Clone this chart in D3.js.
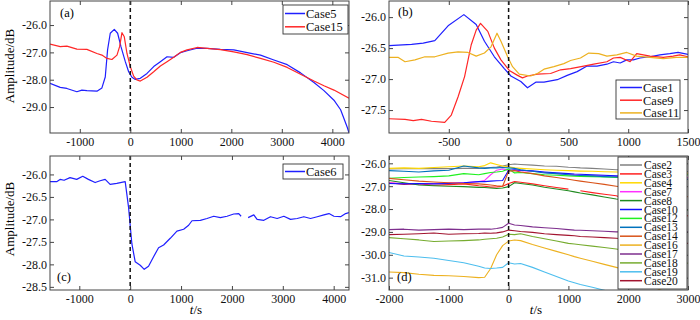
<!DOCTYPE html>
<html>
<head>
<meta charset="utf-8">
<script src="https://cdn.jsdelivr.net/npm/d3@7"></script>
<style>
    body { margin: 0; background: #fff; }
    #chart text { font-family: "Liberation Serif", "Times New Roman", serif; }
</style>
</head>
<body>
<div id="chart"></div>
<script>
// ---- panel (a) ----
var tA5 = [-1590,-1388,-1256,-1058,-959,-860,-661,-562,-496,-450,-397,-317,-251,-185,-99,-33,33,99,198,331,463,595,727,860,992,1124,1322,1520,1785,2049,2314,2578,2843,3107,3371,3636,3834,4032,4164,4297,4330];
var vA5 = [-28.13,-28.28,-28.32,-28.44,-28.38,-28.4,-28.42,-28.3,-27.9,-26.91,-26.3,-26.16,-26.3,-26.79,-27.34,-27.71,-27.91,-27.99,-27.95,-27.77,-27.52,-27.34,-27.16,-27.18,-27.01,-26.94,-26.85,-26.85,-26.89,-26.91,-27.01,-27.1,-27.28,-27.45,-27.75,-28.1,-28.4,-28.75,-29.1,-29.75,-29.95];
var tA15 = [-1590,-1388,-1256,-1058,-860,-661,-562,-463,-364,-264,-212,-165,-119,-66,0,66,132,198,331,463,595,727,860,992,1124,1322,1520,1785,2049,2314,2578,2843,3107,3371,3636,3834,4032,4330];
var vA15 = [-26.7,-26.79,-26.77,-26.88,-26.89,-27.04,-27.1,-27.22,-27.26,-27.1,-26.79,-26.28,-26.43,-27.04,-27.52,-27.87,-28.01,-28.05,-27.91,-27.71,-27.5,-27.34,-27.18,-27.0,-26.91,-26.82,-26.85,-26.9,-26.98,-27.08,-27.22,-27.36,-27.55,-27.8,-28.05,-28.22,-28.38,-28.68];

// ---- panel (b) ----
var tB1 = [-1000,-811,-714,-617,-506,-374,-271,-202,-119,-36,19,102,158,227,296,407,490,573,656,739,822,877,933,988,1043,1099,1182,1265,1348,1417,1500];
var vB1 = [-26.46,-26.44,-26.42,-26.38,-26.14,-25.96,-26.12,-26.39,-26.64,-26.83,-26.95,-27.04,-27.14,-27.05,-27.05,-27.01,-26.94,-26.88,-26.79,-26.79,-26.76,-26.72,-26.74,-26.69,-26.69,-26.66,-26.64,-26.61,-26.59,-26.57,-26.6];
var tB9 = [-1000,-866,-797,-728,-645,-534,-479,-423,-368,-313,-271,-235,-174,-119,-64,6,75,116,158,241,351,435,518,628,712,822,877,933,1016,1071,1182,1293,1376,1431,1500];
var vB9 = [-27.64,-27.65,-27.67,-27.65,-27.68,-27.7,-27.58,-27.29,-26.96,-26.45,-26.21,-26.1,-26.23,-26.5,-26.69,-26.86,-26.94,-26.98,-26.95,-26.92,-26.91,-26.85,-26.83,-26.79,-26.76,-26.72,-26.66,-26.65,-26.72,-26.59,-26.63,-26.65,-26.63,-26.61,-26.64];
var tB11 = [-1000,-922,-866,-783,-700,-617,-506,-423,-340,-271,-202,-147,-97,-64,-8,33,89,185,241,296,379,462,518,601,670,753,822,905,988,1071,1182,1293,1403,1500];
var vB11 = [-26.65,-26.65,-26.72,-26.69,-26.64,-26.64,-26.58,-26.56,-26.57,-26.63,-26.58,-26.48,-26.26,-26.39,-26.64,-26.8,-26.92,-26.95,-26.91,-26.84,-26.8,-26.75,-26.7,-26.66,-26.58,-26.59,-26.63,-26.61,-26.57,-26.63,-26.65,-26.67,-26.65,-26.65];

// ---- panel (c) ----  (null = gap in the record)
var tC6 = [-1576,-1445,-1379,-1300,-1182,-1051,-932,-821,-689,-591,-492,-394,-263,-98,-33,33,98,197,276,361,460,558,657,788,919,1051,1149,1215,1379,1510,1642,1773,1904,2035,2134,2180,2250,2318,2430,2495,2627,2758,2889,3020,3152,3283,3414,3545,3677,3808,3907,4005,4136,4235,4301];
var vC6 = [-26.16,-26.16,-26.11,-26.13,-26.07,-26.11,-26.04,-26.11,-26.18,-26.14,-26.11,-26.22,-26.2,-26.16,-26.72,-27.54,-27.94,-28.02,-28.11,-28.04,-27.83,-27.63,-27.57,-27.42,-27.26,-27.22,-27.13,-27.03,-27.02,-26.98,-26.93,-26.96,-26.93,-26.88,-26.87,-26.93,null,-26.96,-26.9,-27.0,-27.02,-26.94,-26.98,-26.93,-27.0,-26.98,-26.94,-26.98,-26.94,-26.9,-26.87,-26.93,-26.94,-26.87,-26.85];

// ---- panel (d) ---- shared time axis
var tD = [-2000,-1750,-1500,-1250,-1000,-750,-500,-400,-300,-200,-100,0,100,200,400,600,800,1000,1100,1200,1400,1600,1800,2000,2500,3000];
var vD2  = [-26.25,-26.24,-26.24,-26.22,-26.23,-26.22,-26.22,-26.2,-26.18,-26.16,-26.12,-26.06,-26.03,-26.05,-26.08,-26.12,-26.13,-26.17,-26.18,-26.2,-26.22,-26.25,-26.28,-26.3,-26.33,-26.36];
var vD3  = [-26.85,-26.92,-26.9,-26.96,-26.93,-26.9,-26.98,-27.0,-27.04,-27.03,-27.0,-26.88,-26.8,-26.83,-26.9,-26.98,-27.06,-27.13,null,-27.2,-27.28,-27.35,-27.42,-27.6,-27.95,-28.3];
var vD4  = [-26.22,-26.2,-26.22,-26.18,-26.15,-26.12,-26.15,-26.1,-25.98,-26.05,-26.12,-26.15,-26.2,-26.22,-26.25,-26.28,-26.3,-26.32,-26.33,-26.34,-26.35,-26.37,-26.38,-26.39,-26.41,-26.43];
var vD7  = [-26.85,-26.88,-26.9,-26.88,-26.85,-26.85,-26.8,-26.75,-26.5,-26.3,-26.25,-26.3,-26.3,-26.32,-26.35,-26.4,-26.45,-26.48,-26.5,-26.51,-26.53,-26.55,-26.57,-26.58,-26.6,-26.62];
var vD8  = [-26.75,-26.85,-26.95,-26.98,-27.0,-27.02,-27.05,-27.06,-27.08,-27.1,-27.08,-27.02,-26.85,-26.88,-26.95,-27.05,-27.12,-27.2,-27.25,-27.3,-27.38,-27.47,-27.56,-27.62,-27.85,-28.05];
var vD10 = [-26.88,-26.9,-26.88,-26.9,-26.88,-26.85,-26.8,-26.8,-26.78,-26.76,-26.75,-26.3,-26.28,-26.3,-26.33,-26.38,-26.42,-26.45,-26.47,-26.48,-26.5,-26.52,-26.55,-26.58,-26.65,-26.7];
var vD12 = [-26.65,-26.62,-26.6,-26.58,-26.55,-26.45,-26.5,-26.45,-26.4,-26.38,-26.35,-26.25,-26.42,-26.4,-26.45,-26.5,-26.52,-26.55,-26.56,-26.57,-26.58,-26.6,-26.62,-26.6,-26.55,-26.5];
var vD13 = [-26.32,-26.35,-26.38,-26.33,-26.3,-26.12,-26.2,-26.22,-26.2,-26.2,-26.18,-26.2,-26.22,-26.28,-26.35,-26.42,-26.45,-26.5,-26.52,-26.53,-26.55,-26.58,-26.6,-26.62,-26.66,-26.7];
var vD14 = [-26.66,-26.72,-26.78,-26.82,-26.85,-26.88,-26.9,-26.92,-26.95,-26.98,-27.0,-26.35,-26.32,-26.38,-26.45,-26.55,-26.62,-26.7,-26.74,-26.78,-26.85,-26.92,-27.0,-27.08,-27.25,-27.46];
var vD16 = [-30.75,-30.78,-30.85,-30.9,-30.92,-30.95,-31.0,-30.98,-30.6,-30.0,-29.6,-29.4,-29.35,-29.38,-29.55,-29.7,-29.85,-30.0,-30.08,-30.15,-30.28,-30.42,-30.55,-30.7,-31.5,-32.0];
var vD17 = [-28.9,-28.88,-28.92,-28.9,-28.88,-28.9,-28.88,-28.87,-28.88,-28.85,-28.8,-28.62,-28.7,-28.72,-28.78,-28.82,-28.85,-28.9,-28.92,-28.93,-28.95,-28.97,-29.0,-29.0,-29.0,-29.0];
var vD18 = [-29.25,-29.3,-29.35,-29.42,-29.4,-29.38,-29.35,-29.32,-29.3,-29.28,-29.22,-29.1,-29.12,-29.08,-29.2,-29.3,-29.4,-29.5,-29.53,-29.56,-29.62,-29.68,-29.75,-29.85,-30.1,-30.37];
var vD19 = [-29.9,-30.05,-30.1,-30.15,-30.25,-30.35,-30.5,-30.58,-30.6,-30.58,-30.55,-30.35,-30.4,-30.38,-30.55,-30.75,-30.95,-31.15,-31.22,-31.3,-31.42,-31.55,-31.7,-31.85,null,null];
var vD20 = [-29.12,-29.1,-29.08,-29.05,-29.1,-29.08,-29.07,-29.05,-29.06,-29.04,-29.0,-28.92,-28.95,-28.98,-29.02,-29.08,-29.12,-29.15,-29.17,-29.2,-29.22,-29.25,-29.28,-29.32,-29.4,-29.5];

// tick labels
var xTicksAC = [-1000, 0, 1000, 2000, 3000, 4000];
var xTicksB = [-500, 0, 500, 1000, 1500];
var xTicksD = [-2000, -1000, 0, 1000, 2000, 3000];
var yTicksA = [-26, -27, -28, -29];
var yTicksB = [-26, -26.5, -27, -27.5];
var yTicksC = [-26, -26.5, -27, -27.5, -28, -28.5];
var yTicksD = [-26, -27, -28, -29, -30, -31];

function Chart() {
    var svg = d3.select("#chart")
                .append("svg")
                .attr("width", 700)
                .attr("height", 320)
                .style("background-color", "#fff");

    drawPanel(svg, {
        id: "a", left: 50, right: 349, top: 1, bottom: 133,
        xDomain: [-1590, 4330], yDomain: [-29.95, -25.12],
        xTicks: xTicksAC, yTicks: yTicksA, tag: "(a)", tagX: 60, tagY: 17,
        series: [
            { name: "Case5", t: tA5, v: vA5, color: "#1f1fff" },
            { name: "Case15", t: tA15, v: vA15, color: "#ff2626" }
        ],
        legend: { x: 283, y: 5, w: 65, h: 29, first: 8.5, step: 13.3, lx: 2, len: 20, tx: 23, size: 12.5 }
    });

    drawPanel(svg, {
        id: "b", left: 389, right: 688, top: 1, bottom: 133,
        xDomain: [-1000, 1500], yDomain: [-27.87, -25.74],
        xTicks: xTicksB, yTicks: yTicksB, tag: "(b)", tagX: 398, tagY: 16,
        series: [
            { name: "Case1", t: tB1, v: vB1, color: "#1f1fff" },
            { name: "Case9", t: tB9, v: vB9, color: "#ff2626" },
            { name: "Case11", t: tB11, v: vB11, color: "#edb120" }
        ],
        legend: { x: 616, y: 80, w: 64, h: 39, first: 7.5, step: 12.7, lx: 4, len: 22, tx: 27, size: 12.5 }
    });

    drawPanel(svg, {
        id: "c", left: 50, right: 349, top: 156, bottom: 290,
        xDomain: [-1576, 4301], yDomain: [-28.57, -25.59],
        xTicks: xTicksAC, yTicks: yTicksC, tag: "(c)", tagX: 57, tagY: 281,
        series: [
            { name: "Case6", t: tC6, v: vC6, color: "#1f1fff" }
        ],
        legend: { x: 283, y: 164, w: 60, h: 15, first: 7.5, step: 13, lx: 2, len: 20, tx: 23, size: 12.5 }
    });

    drawPanel(svg, {
        id: "d", left: 389, right: 688, top: 156, bottom: 290,
        xDomain: [-2000, 3000], yDomain: [-31.54, -25.68],
        xTicks: xTicksD, yTicks: yTicksD, tag: "(d)", tagX: 397, tagY: 281, width: 1.1,
        series: [
            { name: "Case2", t: tD, v: vD2, color: "#808080" },
            { name: "Case3", t: tD, v: vD3, color: "#ff2020" },
            { name: "Case4", t: tD, v: vD4, color: "#ffd800" },
            { name: "Case7", t: tD, v: vD7, color: "#ff30ff" },
            { name: "Case8", t: tD, v: vD8, color: "#208a20" },
            { name: "Case10", t: tD, v: vD10, color: "#1010ff" },
            { name: "Case12", t: tD, v: vD12, color: "#20f020" },
            { name: "Case13", t: tD, v: vD13, color: "#0072bd" },
            { name: "Case14", t: tD, v: vD14, color: "#d95319" },
            { name: "Case16", t: tD, v: vD16, color: "#edb120" },
            { name: "Case17", t: tD, v: vD17, color: "#7e2f8e" },
            { name: "Case18", t: tD, v: vD18, color: "#77ac30" },
            { name: "Case19", t: tD, v: vD19, color: "#4dbeee" },
            { name: "Case20", t: tD, v: vD20, color: "#a2142f" }
        ],
        legend: { x: 618, y: 157, w: 69, h: 132, first: 8, step: 8.9, lx: 2, len: 22, tx: 26, size: 11.5 }
    });

    // axis titles
    svg.append("text").attr("transform", "translate(14,66) rotate(-90)")
       .attr("text-anchor", "middle").attr("font-size", 13).text("Amplitude/dB");
    svg.append("text").attr("transform", "translate(14,219) rotate(-90)")
       .attr("text-anchor", "middle").attr("font-size", 13).text("Amplitude/dB");

    [196, 536].forEach(function(cx) {
        var t = svg.append("text").attr("x", cx).attr("y", 314)
                   .attr("text-anchor", "middle").attr("font-size", 13);
        t.append("tspan").attr("font-style", "italic").text("t");
        t.append("tspan").text("/s");
    });
}

function drawPanel(svg, p) {
    var x = d3.scaleLinear().domain(p.xDomain).range([p.left, p.right]);
    var y = d3.scaleLinear().domain(p.yDomain).range([p.bottom, p.top]);
    var lw = p.width || 1.2;

    // clip lines to the plot box
    svg.append("clipPath").attr("id", "clip-" + p.id)
       .append("rect")
       .attr("x", p.left).attr("y", p.top)
       .attr("width", p.right - p.left).attr("height", p.bottom - p.top);

    var line = d3.line()
                 .defined(function(d) { return d[1] !== null; })
                 .x(function(d) { return x(d[0]); })
                 .y(function(d) { return y(d[1]); });

    var g = svg.append("g").attr("clip-path", "url(#clip-" + p.id + ")");
    p.series.forEach(function(s) {
        var pts = s.t.map(function(t, i) { return [t, s.v[i]]; });
        g.append("path")
         .datum(pts)
         .attr("d", line)
         .attr("fill", "none")
         .attr("stroke", s.color)
         .attr("stroke-width", lw)
         .attr("stroke-linejoin", "round");
    });

    // dashed line at t = 0
    svg.append("line")
       .attr("x1", x(0)).attr("x2", x(0))
       .attr("y1", p.top).attr("y2", p.bottom)
       .attr("stroke", "#111").attr("stroke-width", 1.5)
       .attr("stroke-dasharray", "4,3");

    // axes, ticks pointing inward on all four sides
    var fmtX = function(d) { return String(d); };
    var fmtY = function(d) { return d.toFixed(1); };

    var axes = [
        { ax: d3.axisBottom(x).tickValues(p.xTicks).tickFormat(fmtX).tickPadding(4), tr: "translate(0," + p.bottom + ")" },
        { ax: d3.axisTop(x).tickValues(p.xTicks).tickFormat(""), tr: "translate(0," + p.top + ")" },
        { ax: d3.axisLeft(y).tickValues(p.yTicks).tickFormat(fmtY).tickPadding(3), tr: "translate(" + p.left + ",0)" },
        { ax: d3.axisRight(y).tickValues(p.yTicks).tickFormat(""), tr: "translate(" + p.right + ",0)" }
    ];
    axes.forEach(function(a) {
        var ga = svg.append("g")
                    .attr("transform", a.tr)
                    .call(a.ax.tickSizeInner(-4).tickSizeOuter(0));
        ga.select(".domain").remove();
        ga.selectAll("line").attr("stroke", "#444");
        ga.selectAll("text")
          .attr("font-family", "'Liberation Serif', 'Times New Roman', serif")
          .attr("font-size", 12)
          .attr("fill", "#111");
    });

    // frame
    svg.append("rect")
       .attr("x", p.left).attr("y", p.top)
       .attr("width", p.right - p.left).attr("height", p.bottom - p.top)
       .attr("fill", "none").attr("stroke", "#444").attr("stroke-width", 1);

    // panel tag
    svg.append("text").attr("x", p.tagX).attr("y", p.tagY)
       .attr("font-size", 12.5).text(p.tag);

    // legend
    var L = p.legend;
    var lg = svg.append("g");
    lg.append("rect")
      .attr("x", L.x).attr("y", L.y).attr("width", L.w).attr("height", L.h)
      .attr("fill", "#fff").attr("stroke", "#333").attr("stroke-width", 0.9);
    p.series.forEach(function(s, i) {
        var yy = L.y + L.first + i * L.step;
        lg.append("line")
          .attr("x1", L.x + L.lx).attr("x2", L.x + L.lx + L.len)
          .attr("y1", yy).attr("y2", yy)
          .attr("stroke", s.color).attr("stroke-width", 1.5);
        lg.append("text")
          .attr("x", L.x + L.tx).attr("y", yy).attr("dy", "0.35em")
          .attr("font-size", L.size).attr("fill", "#111")
          .text(s.name);
    });
}

Chart();
</script>
</body>
</html>
